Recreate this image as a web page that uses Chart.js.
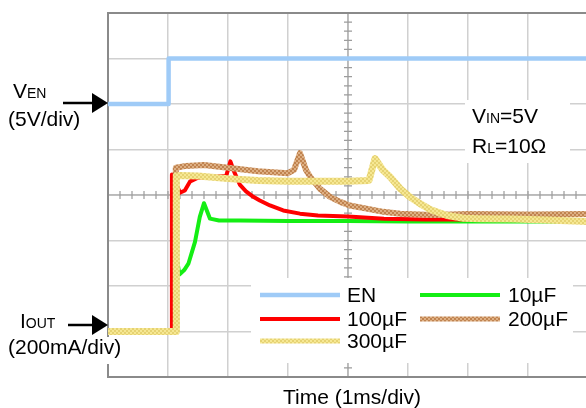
<!DOCTYPE html>
<html>
<head>
<meta charset="utf-8">
<script src="https://cdn.jsdelivr.net/npm/chart.js@4.4.1/dist/chart.umd.min.js"></script>
<style>
  html, body { margin: 0; padding: 0; background: #fff; overflow: hidden; }
  #wrap { position: relative; width: 590px; height: 408px; }
</style>
</head>
<body>
<div id="wrap"><canvas id="scopeChart"></canvas></div>
<script>
// both axes are in scope divisions: x = 1ms/div, y = screen divisions
const timeTicks = [0, 1, 2, 3, 4, 5, 6, 7, 8];
const levelTicks = [0, 1, 2, 3, 4, 5, 6, 7, 8];

const legendNames = ['EN', '10µF', '100µF', '200µF', '300µF'];

const enTime  = [0, 0.5, 1.01, 1.01, 8];
const enLevel = [6, 6, 6, 7, 7];

const c10Time  = [0, 1.09, 1.1, 1.19, 1.27, 1.34, 1.45, 1.53, 1.6, 1.7, 1.85, 2.2, 3, 4, 5, 6, 7, 8];
const c10Level = [1, 1, 3.0, 2.25, 2.35, 2.49, 2.97, 3.52, 3.82, 3.48, 3.44, 3.44, 3.43, 3.43, 3.42, 3.42, 3.42, 3.42];

const c100Time  = [0, 1.05, 1.065, 1.08, 1.2, 1.28, 1.37, 1.5, 1.75, 1.97, 2.04, 2.1, 2.2, 2.3, 2.4, 2.53, 2.7, 2.92, 3.2, 3.5, 4.0, 4.6, 5.3, 6.0, 7.0, 8.0];
const c100Level = [1, 1, 4.45, 4.42, 4.05, 4.1, 4.3, 4.38, 4.4, 4.42, 4.74, 4.52, 4.22, 4.08, 3.98, 3.88, 3.77, 3.66, 3.59, 3.55, 3.53, 3.48, 3.46, 3.46, 3.45, 3.45];

const c200Time  = [0, 1.12, 1.13, 1.3, 1.6, 2.0, 2.5, 3.0, 3.1, 3.2, 3.3, 3.38, 3.53, 3.7, 3.87, 4.03, 4.31, 4.59, 4.87, 5.4, 6.0, 7.0, 8.0];
const c200Level = [1, 1, 4.6, 4.64, 4.66, 4.6, 4.52, 4.48, 4.55, 4.92, 4.55, 4.38, 4.14, 3.96, 3.85, 3.77, 3.70, 3.63, 3.59, 3.56, 3.58, 3.57, 3.58];

const c300Time  = [0, 1.14, 1.14, 1.2, 1.5, 2.0, 2.5, 3.0, 3.5, 4.0, 4.35, 4.45, 4.58, 4.7, 4.87, 5.03, 5.2, 5.37, 5.65, 5.93, 6.2, 6.75, 7.3, 8.0];
const c300Level = [1, 1, 4.42, 4.43, 4.42, 4.36, 4.32, 4.3, 4.3, 4.3, 4.32, 4.8, 4.55, 4.4, 4.14, 3.96, 3.81, 3.68, 3.55, 3.49, 3.48, 3.47, 3.45, 3.42];

const ctx = document.getElementById('scopeChart').getContext('2d');
const FONT = "'Liberation Sans', Arial, sans-serif";

function pts(xs, ys) {
  return xs.map((x, i) => ({ x: x, y: ys[i] }));
}

// speckled stroke like the scope's persistence traces
function speckle(base, dot) {
  const tile = document.createElement('canvas');
  tile.width = 4; tile.height = 4;
  const t = tile.getContext('2d');
  t.fillStyle = base; t.fillRect(0, 0, 4, 4);
  t.fillStyle = dot;
  t.fillRect(0, 0, 2, 2); t.fillRect(2, 2, 2, 2);
  return ctx.createPattern(tile, 'repeat');
}

const brownInk = speckle('#deb084', '#c0834f');
const yellowInk = speckle('#f6e894', '#e6d272');

function drawSub(g, x, y, main, sub) {
  g.font = '21px ' + FONT;
  g.fillText(main, x, y);
  let w = g.measureText(main).width;
  g.font = '14px ' + FONT;
  g.fillText(sub, x + w, y);
  return x + w + g.measureText(sub).width;
}

function arrow(g, x0, x1, y) {
  g.strokeStyle = '#000';
  g.lineWidth = 2.5;
  g.beginPath(); g.moveTo(x0, y); g.lineTo(x1 - 12, y); g.stroke();
  g.fillStyle = '#000';
  g.beginPath(); g.moveTo(x1, y); g.lineTo(x1 - 16, y - 10); g.lineTo(x1 - 16, y + 10); g.closePath(); g.fill();
}

const scopeDecor = {
  id: 'scopeDecor',
  beforeDatasetsDraw(chart) {
    const g = chart.ctx;
    const xs = chart.scales.x, ys = chart.scales.y;
    const a = chart.chartArea;
    const cx = xs.getPixelForValue(4), cy = ys.getPixelForValue(4);
    g.save();
    g.strokeStyle = '#b2b2b2';
    g.lineWidth = 1.5;
    g.beginPath();
    g.moveTo(cx, a.top); g.lineTo(cx, a.bottom);
    g.moveTo(a.left, cy); g.lineTo(a.right, cy);
    g.stroke();
    g.strokeStyle = '#9c9c9c';
    g.lineWidth = 1.2;
    g.beginPath();
    for (let v = 0.2; v < 8; v += 0.2) {
      const px = xs.getPixelForValue(v), py = ys.getPixelForValue(v);
      g.moveTo(px, cy - 4); g.lineTo(px, cy + 4);
      g.moveTo(cx - 4, py); g.lineTo(cx + 4, py);
    }
    g.stroke();
    // frame: left, top, bottom
    g.strokeStyle = '#8a8a8a';
    g.lineWidth = 2;
    g.beginPath();
    g.moveTo(a.right + 4, a.top); g.lineTo(a.left, a.top); g.lineTo(a.left, a.bottom); g.lineTo(a.right + 4, a.bottom);
    g.stroke();
    g.restore();
  },
  afterDraw(chart) {
    const g = chart.ctx;
    const a = chart.chartArea;
    g.save();
    g.textBaseline = 'alphabetic';
    g.textAlign = 'left';

    // legend box
    g.fillStyle = '#fff';
    g.fillRect(251, 278, 322, 85);
    const ds = chart.data.datasets;
    const cols = [[260, 340, 347], [420, 500, 508]];
    const rowLine = [295, 319, 341];
    const rowText = [302, 326, 348];
    ds.forEach((d, i) => {
      const c = cols[i % 2], r = Math.floor(i / 2);
      g.strokeStyle = d.borderColor;
      g.lineWidth = Math.min(d.borderWidth, 5);
      g.beginPath(); g.moveTo(c[0], rowLine[r]); g.lineTo(c[1], rowLine[r]); g.stroke();
      g.fillStyle = '#000';
      g.font = '21px ' + FONT;
      g.fillText(d.label, c[2], rowText[r]);
    });

    // conditions box
    g.fillStyle = '#fff';
    g.fillRect(465, 100, 105, 63);
    g.fillStyle = '#000';
    let e = drawSub(g, 472, 123, 'V', 'IN');
    g.font = '21px ' + FONT; g.fillText('=5V', e, 123);
    e = drawSub(g, 472, 153, 'R', 'L');
    g.font = '21px ' + FONT; g.fillText('=10Ω', e, 153);

    // channel labels at left
    drawSub(g, 13, 98, 'V', 'EN');
    g.font = '21px ' + FONT; g.fillText('(5V/div)', 8, 126);
    arrow(g, 63, a.left, 103);

    g.fillStyle = '#fff';
    g.font = '21px ' + FONT;
    const w = g.measureText('(200mA/div)').width;
    g.fillRect(4, 337, w + 8, 27);
    g.fillStyle = '#000';
    drawSub(g, 20, 328, 'I', 'OUT');
    g.font = '21px ' + FONT; g.fillText('(200mA/div)', 8, 354);
    arrow(g, 68, a.left, 325);

    // time axis title
    g.textAlign = 'center';
    g.font = '21px ' + FONT;
    g.fillText('Time (1ms/div)', 352, 404);
    g.restore();
  }
};

const gridStyle = { color: '#d0d0d0', lineWidth: 1.5, drawTicks: false };

const scopeChart = new Chart(ctx, {
  type: 'line',
  data: {
    datasets: [
      { label: legendNames[0], data: pts(enTime, enLevel), borderColor: '#9fcbf7', borderWidth: 4.5, order: 0 },
      { label: legendNames[1], data: pts(c10Time, c10Level), borderColor: '#14ee14', borderWidth: 4, order: 4 },
      { label: legendNames[2], data: pts(c100Time, c100Level), borderColor: '#ff0000', borderWidth: 4, order: 3 },
      { label: legendNames[3], data: pts(c200Time, c200Level), borderColor: brownInk, borderWidth: 6, order: 2 },
      { label: legendNames[4], data: pts(c300Time, c300Level), borderColor: yellowInk, borderWidth: 7, order: 1 }
    ]
  },
  options: {
    responsive: true,
    maintainAspectRatio: false,
    animation: false,
    layout: { padding: { left: 108, top: 13, right: 2, bottom: 31 } },
    elements: {
      point: { radius: 0 },
      line: { tension: 0, fill: false, borderJoinStyle: 'round', borderCapStyle: 'butt' }
    },
    plugins: {
      legend: { display: false },
      tooltip: { enabled: false }
    },
    scales: {
      x: {
        type: 'linear',
        min: timeTicks[0],
        max: timeTicks[timeTicks.length - 1],
        afterBuildTicks: (s) => { s.ticks = timeTicks.map(v => ({ value: v })); },
        ticks: { display: false },
        grid: gridStyle,
        border: { display: false }
      },
      y: {
        type: 'linear',
        min: levelTicks[0],
        max: levelTicks[levelTicks.length - 1],
        afterBuildTicks: (s) => { s.ticks = levelTicks.map(v => ({ value: v })); },
        ticks: { display: false },
        grid: gridStyle,
        border: { display: false }
      }
    }
  },
  plugins: [scopeDecor]
});
</script>
</body>
</html>
